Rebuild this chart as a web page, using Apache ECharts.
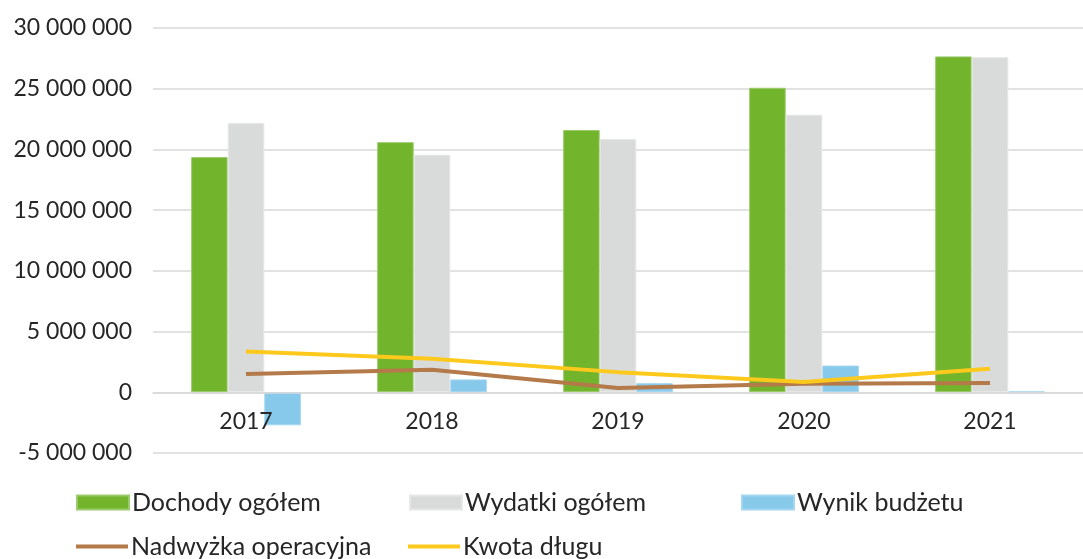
<!DOCTYPE html>
<html>
<head>
<meta charset="utf-8">
<script src="https://cdn.jsdelivr.net/npm/echarts@6/dist/echarts.min.js"></script>
<style>
html,body{margin:0;padding:0;background:#fff;}
#chart{width:1083px;height:559px;}
</style>
</head>
<body>
<div id="chart"></div>
<script>
const categories = ['2017', '2018', '2019', '2020', '2021'];
const dochody = [19370000, 20600000, 21600000, 25080000, 27660000];
const wydatki = [22170000, 19560000, 20860000, 22860000, 27600000];
const wynik = [-2720000, 1060000, 750000, 2200000, 60000];
const nadwyzka = [1500000, 1850000, 350000, 700000, 760000];
const dlug = [3360000, 2760000, 1660000, 840000, 1940000];
const seriesNames = ['Dochody ogółem', 'Wydatki ogółem', 'Wynik budżetu', 'Nadwyżka operacyjna', 'Kwota długu'];

const FONT = 'Lato';
const txt = { fontFamily: FONT, fontSize: 23, color: '#262626' };

function fmt(v) {
  const s = String(Math.abs(v)).replace(/\B(?=(\d{3})+(?!\d))/g, ' ');
  return (v < 0 ? '-' : '') + s;
}

function leg(name, left, top, isLine) {
  return {
    data: [{ name: name, icon: 'rect' }], left: left, top: top, padding: 0,
    itemWidth: 52, itemHeight: isLine ? 4 : 14, itemGap: 0,
    textStyle: Object.assign({}, txt, { fontSize: 25, padding: [0, 0, 0, -2] })
  };
}

const GRID_TOP = 28, GRID_BOTTOM = 106, H = 559;
const YMIN = -5000000, YMAX = 30000000;
const plotH = H - GRID_TOP - GRID_BOTTOM;
const zeroOffset = -plotH * (0 - YMIN) / (YMAX - YMIN);

const chart = echarts.init(document.getElementById('chart'), null, { renderer: 'canvas' });
chart.setOption({
  animation: false,
  backgroundColor: '#ffffff',
  grid: { left: 153, right: 0, top: GRID_TOP, bottom: GRID_BOTTOM, containLabel: false },
  legend: [
    leg(seriesNames[0], 76, 490, false),
    leg(seriesNames[1], 409, 490, false),
    leg(seriesNames[2], 741, 490, false),
    leg(seriesNames[3], 76, 534, true),
    leg(seriesNames[4], 408, 534, true)
  ],
  xAxis: {
    type: 'category',
    data: categories,
    z: 10,
    offset: zeroOffset,
    axisLine: { show: true, onZero: false, lineStyle: { color: '#D9D9D9', width: 1.5 } },
    axisTick: { show: false },
    axisLabel: Object.assign({}, txt, { margin: 18 }),
    splitLine: { show: false }
  },
  yAxis: {
    type: 'value',
    min: YMIN, max: YMAX, interval: 5000000,
    axisLine: { show: false },
    axisTick: { show: false },
    axisLabel: Object.assign({}, txt, { margin: 21, formatter: fmt }),
    splitLine: { show: true, lineStyle: { color: '#D9D9D9', width: 1.5 } }
  },
  series: [
    { name: seriesNames[0], type: 'bar', data: dochody, barGap: '0%', barCategoryGap: '41%', z: 1,
      itemStyle: { color: '#72B42C', borderColor: '#9CCB6E', borderWidth: 1 } },
    { name: seriesNames[1], type: 'bar', data: wydatki, barGap: '0%', barCategoryGap: '41%', z: 1,
      itemStyle: { color: '#D9DBDA', borderColor: '#E6E7E6', borderWidth: 1 } },
    { name: seriesNames[2], type: 'bar', data: wynik, barGap: '0%', barCategoryGap: '41%', z: 1,
      itemStyle: { color: '#86C9EA', borderColor: '#A5D6EF', borderWidth: 1 } },
    { name: seriesNames[3], type: 'line', data: nadwyzka, symbol: 'none', z: 5,
      lineStyle: { color: '#B47A4A', width: 4 }, itemStyle: { color: '#B47A4A' } },
    { name: seriesNames[4], type: 'line', data: dlug, symbol: 'none', z: 5,
      lineStyle: { color: '#FCC91C', width: 4 }, itemStyle: { color: '#FCC91C' } }
  ]
});
</script>
</body>
</html>
